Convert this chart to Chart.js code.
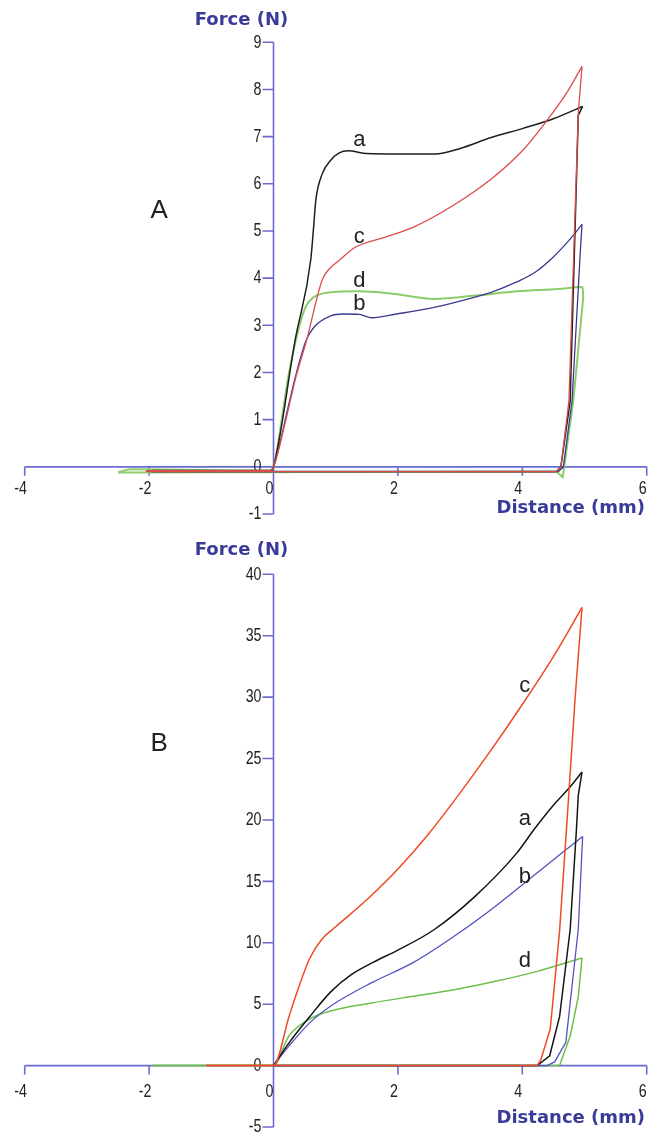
<!DOCTYPE html>
<html>
<head>
<meta charset="utf-8">
<script src="https://cdn.jsdelivr.net/npm/chart.js@4.4.1/dist/chart.umd.min.js"></script>
<style>
  body { margin: 0; background: #fff; }
  canvas { display: block; }
</style>
</head>
<body>
<canvas id="chartA" width="648" height="530"></canvas>
<canvas id="chartB" width="648" height="603"></canvas>
<script>
// tick values
var xTicks = [-4, -2, 0, 2, 4, 6];
var yTicksA = [-1, 0, 1, 2, 3, 4, 5, 6, 7, 8, 9];
var yTicksB = [-5, 0, 5, 10, 15, 20, 25, 30, 35, 40];

// panel A : distance (mm) / force (N), loading out to ~5 mm then back
var distA_a = [-1.95, -0.05, 0, 0.35, 0.6, 0.64, 0.68, 0.78, 0.92, 1.05, 1.2, 1.5, 2.0, 2.6, 3.0, 3.5, 4.0, 4.5, 4.97, 4.9, 4.77, 4.62, 4.55, -1.95];
var forceA_a = [-0.08, -0.08, 0, 2.7, 4.4, 5.0, 5.65, 6.2, 6.5, 6.65, 6.7, 6.64, 6.63, 6.63, 6.75, 6.98, 7.17, 7.38, 7.64, 7.45, 1.4, 0, -0.1, -0.1];
var distA_b = [-2.0, -0.05, 0, 0.25, 0.35, 0.52, 0.65, 0.92, 1.12, 1.38, 1.58, 1.98, 2.58, 3.24, 3.5, 3.91, 4.2, 4.5, 4.75, 4.96, 4.93, 4.8, 4.66, 4.58, -2.0];
var forceA_b = [-0.08, -0.08, 0, 1.35, 1.9, 2.67, 2.96, 3.2, 3.24, 3.23, 3.16, 3.24, 3.38, 3.6, 3.7, 3.92, 4.12, 4.45, 4.8, 5.14, 4.5, 1.4, 0, -0.1, -0.1];
var distA_c = [-2.05, -0.05, 0, 0.2, 0.35, 0.53, 0.78, 0.9, 1.05, 1.32, 1.8, 2.25, 2.9, 3.5, 4.0, 4.4, 4.7, 4.96, 4.9, 4.75, 4.62, 4.55, -2.05];
var forceA_c = [-0.08, -0.08, 0, 1.0, 1.85, 2.67, 3.95, 4.2, 4.37, 4.66, 4.87, 5.08, 5.55, 6.1, 6.7, 7.35, 7.9, 8.49, 7.5, 1.4, 0, -0.1, -0.1];
var distA_d = [-2.5, -2.3, -0.05, 0, 0.25, 0.4, 0.52, 0.65, 0.92, 1.38, 1.91, 2.58, 3.24, 3.91, 4.57, 4.97, 4.98, 4.82, 4.65, 4.55, -2.5];
var forceA_d = [-0.12, -0.05, -0.08, 0, 2.0, 2.9, 3.4, 3.6, 3.7, 3.72, 3.67, 3.56, 3.63, 3.72, 3.77, 3.81, 3.6, 1.4, -0.22, -0.1, -0.12];

// panel B
var distB_a = [0, 0.25, 0.585, 0.92, 1.25, 1.6, 2.0, 2.58, 3.24, 3.91, 4.2, 4.5, 4.77, 4.96, 4.9, 4.87, 4.77, 4.6, 4.44, 4.24, 0];
var forceB_a = [0, 1.85, 4.0, 6.0, 7.4, 8.4, 9.4, 11.06, 13.78, 17.3, 19.3, 21.2, 22.7, 23.9, 22.0, 19.2, 11.1, 4.0, 0.8, 0, 0];
var distB_b = [0, 0.25, 0.585, 0.92, 1.58, 2.25, 2.91, 3.57, 4.24, 4.64, 4.97, 4.9, 4.7, 4.52, 4.4, 0];
var forceB_b = [0, 1.6, 3.5, 4.85, 6.75, 8.4, 10.55, 12.98, 15.7, 17.32, 18.65, 11.1, 1.9, 0.3, 0, 0];
var distB_c = [-1.08, 0, 0.25, 0.4, 0.58, 0.78, 1.0, 1.5, 2.0, 2.5, 3.0, 3.5, 4.0, 4.5, 4.96, 4.85, 4.72, 4.6, 4.45, 4.3, 4.24, -1.08];
var forceB_c = [0, 0, 4.0, 6.3, 8.7, 10.3, 11.3, 13.5, 16.0, 18.9, 22.2, 25.7, 29.4, 33.3, 37.3, 30.0, 20.0, 11.0, 3.0, 0.5, 0, 0];
var distB_d = [-1.94, 0, 0.25, 0.585, 0.92, 1.58, 2.25, 2.91, 3.57, 4.24, 4.96, 4.9, 4.77, 4.6, -1.94];
var forceB_d = [0, 0, 2.44, 3.8, 4.45, 5.1, 5.65, 6.18, 6.86, 7.67, 8.76, 5.6, 2.4, 0, 0];

// curve letters, in data units
var lettersA = [['a', 1.38, 6.92], ['c', 1.38, 4.87], ['d', 1.38, 3.95], ['b', 1.38, 3.45]];
var lettersB = [['c', 4.04, 30.9], ['a', 4.04, 20.05], ['b', 4.04, 15.4], ['d', 4.04, 8.5]];

var AXIS_COLOR = '#6b6bcf';
var TITLE_COLOR = '#3a3a98';

function pts(xs, ys) {
  return xs.map(function (x, i) { return {x: x, y: ys[i]}; });
}

// one curve = smooth loading part + straight unloading/return part
function curve(xs, ys, color, width) {
  var data = pts(xs, ys);
  var peak = xs.indexOf(Math.max.apply(null, xs));
  var base = {
    borderColor: color,
    borderWidth: width || 1.3,
    showLine: true,
    pointRadius: 0,
    fill: false
  };
  return [
    Object.assign({data: data.slice(0, peak + 1), cubicInterpolationMode: 'monotone'}, base),
    Object.assign({data: data.slice(peak), tension: 0}, base)
  ];
}

// axes crossing at (0,0), drawn from the chart scales
var crossAxes = {
  id: 'crossAxes',
  beforeDatasetsDraw: function (chart) {
    var o = chart.options.plugins.crossAxes;
    var ctx = chart.ctx, sx = chart.scales.x, sy = chart.scales.y;
    var x0 = sx.getPixelForValue(0), y0 = sy.getPixelForValue(0);
    var yt = o.yTicks;
    ctx.save();
    ctx.strokeStyle = AXIS_COLOR;
    ctx.lineWidth = 1.6;
    ctx.beginPath();
    ctx.moveTo(sx.getPixelForValue(xTicks[0]), y0);
    ctx.lineTo(sx.getPixelForValue(xTicks[xTicks.length - 1]), y0);
    ctx.moveTo(x0, sy.getPixelForValue(yt[0]));
    ctx.lineTo(x0, sy.getPixelForValue(yt[yt.length - 1]));
    xTicks.forEach(function (v) {
      var px = sx.getPixelForValue(v);
      ctx.moveTo(px, y0);
      ctx.lineTo(px, y0 + 9);
    });
    yt.forEach(function (v) {
      var py = sy.getPixelForValue(v);
      ctx.moveTo(x0, py);
      ctx.lineTo(x0 - 11, py);
    });
    ctx.stroke();

    // tick labels, narrow face
    ctx.fillStyle = '#222';
    ctx.font = '19px "Liberation Sans", Arial, sans-serif';
    ctx.textBaseline = 'middle';
    ctx.textAlign = 'center';
    xTicks.forEach(function (v) {
      ctx.save();
      ctx.translate(sx.getPixelForValue(v) - 4, y0 + o.xLabelOffset);
      ctx.scale(0.75, 1);
      ctx.fillText(String(v), 0, 0);
      ctx.restore();
    });
    ctx.textAlign = 'right';
    yt.forEach(function (v) {
      ctx.save();
      ctx.translate(x0 - 12, sy.getPixelForValue(v));
      ctx.scale(0.75, 1);
      ctx.fillText(String(v), 0, 0);
      ctx.restore();
    });
    ctx.restore();
  },
  afterDraw: function (chart) {
    var o = chart.options.plugins.crossAxes;
    var ctx = chart.ctx, sx = chart.scales.x, sy = chart.scales.y;
    var x0 = sx.getPixelForValue(0), y0 = sy.getPixelForValue(0);
    ctx.save();
    ctx.fillStyle = TITLE_COLOR;
    ctx.font = 'bold 18px "DejaVu Sans", sans-serif';
    ctx.textBaseline = 'middle';
    ctx.textAlign = 'center';
    ctx.fillText('Force (N)', x0 - 32, o.yTitleY);
    ctx.textAlign = 'right';
    ctx.fillText('Distance (mm)', 645, y0 + o.xTitleOffset);

    ctx.fillStyle = '#222';
    ctx.textAlign = 'center';
    ctx.font = '22px "Liberation Sans", Arial, sans-serif';
    o.letters.forEach(function (l) {
      ctx.fillText(l[0], sx.getPixelForValue(l[1]), sy.getPixelForValue(l[2]));
    });
    ctx.font = '26px "Liberation Sans", Arial, sans-serif';
    ctx.fillText(o.panel[0], sx.getPixelForValue(o.panel[1]), sy.getPixelForValue(o.panel[2]));
    ctx.restore();
  }
};

function makeOptions(yMin, yMax, pad, axesOpts) {
  return {
    responsive: false,
    animation: false,
    layout: { padding: pad },
    scales: {
      x: { type: 'linear', min: -4, max: 6, display: false },
      y: { type: 'linear', min: yMin, max: yMax, display: false }
    },
    plugins: {
      legend: { display: false },
      tooltip: { enabled: false },
      crossAxes: axesOpts
    }
  };
}

new Chart(document.getElementById('chartA').getContext('2d'), {
  type: 'scatter',
  data: {
    datasets: [].concat(
      curve(distA_c, forceA_c, '#dd4b4b'),
      curve(distA_a, forceA_a, '#1e1e1e', 1.5),
      curve(distA_b, forceA_b, '#3a3a92'),
      curve(distA_d, forceA_d, '#8ccc6a', 2)
    )
  },
  options: makeOptions(-1, 9, {left: 24.7, right: 1.3, top: 42.3, bottom: 16},
    {yTicks: yTicksA, xLabelOffset: 21.5, xTitleOffset: 41, yTitleY: 20,
     letters: lettersA, panel: ['A', -1.84, 5.43]}),
  plugins: [crossAxes]
});

new Chart(document.getElementById('chartB').getContext('2d'), {
  type: 'scatter',
  data: {
    datasets: [].concat(
      curve(distB_c, forceB_c, '#f04a24', 1.5),
      curve(distB_a, forceB_a, '#141414', 1.5),
      curve(distB_b, forceB_b, '#5252bf'),
      curve(distB_d, forceB_d, '#6dbf4a', 1.5)
    )
  },
  options: makeOptions(-5, 40, {left: 24.7, right: 1.3, top: 44.3, bottom: 6},
    {yTicks: yTicksB, xLabelOffset: 26, xTitleOffset: 53, yTitleY: 20,
     letters: lettersB, panel: ['B', -1.84, 26.2]}),
  plugins: [crossAxes]
});
</script>
</body>
</html>
